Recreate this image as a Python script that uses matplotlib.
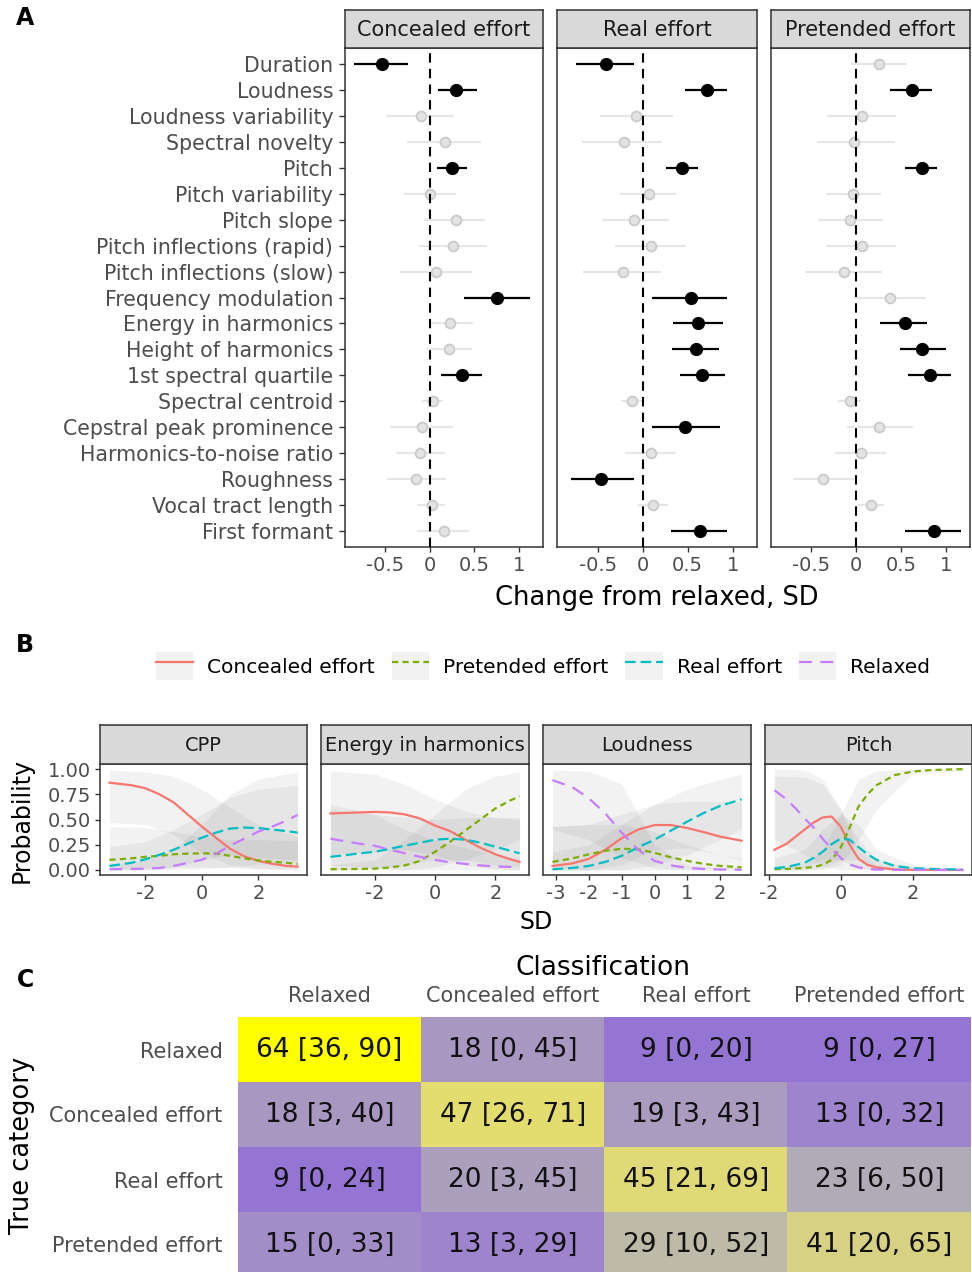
import numpy as np
import matplotlib
matplotlib.use('Agg')
import matplotlib.pyplot as plt
from matplotlib.patches import Patch
from matplotlib.lines import Line2D
from matplotlib.legend_handler import HandlerTuple
from matplotlib.colors import ListedColormap, Normalize, to_rgb

plt.rcParams['font.family'] = ['DejaVu Sans']
plt.rcParams['axes.unicode_minus'] = False

# ---------------- panel A: effect of condition on acoustic features ----------------
features = ['Duration', 'Loudness', 'Loudness variability', 'Spectral novelty', 'Pitch',
            'Pitch variability', 'Pitch slope', 'Pitch inflections (rapid)',
            'Pitch inflections (slow)', 'Frequency modulation', 'Energy in harmonics',
            'Height of harmonics', '1st spectral quartile', 'Spectral centroid',
            'Cepstral peak prominence', 'Harmonics-to-noise ratio', 'Roughness',
            'Vocal tract length', 'First formant']
facets_a = ['Concealed effort', 'Real effort', 'Pretended effort']

conc_est = [-0.54, 0.30, -0.10, 0.17, 0.25, 0.00, 0.29, 0.26, 0.07, 0.76, 0.23, 0.22, 0.36, 0.04, -0.09, -0.11, -0.15, 0.02, 0.16]
conc_lo = [-0.85, 0.09, -0.49, -0.26, 0.08, -0.29, -0.06, -0.12, -0.33, 0.38, -0.01, -0.03, 0.13, -0.09, -0.45, -0.38, -0.48, -0.14, -0.14]
conc_hi = [-0.24, 0.53, 0.27, 0.57, 0.42, 0.30, 0.62, 0.64, 0.47, 1.13, 0.49, 0.47, 0.59, 0.15, 0.26, 0.17, 0.18, 0.17, 0.44]
conc_sig = [1, 1, 0, 0, 1, 0, 0, 0, 0, 1, 0, 0, 1, 0, 0, 0, 0, 0, 0]

real_est = [-0.41, 0.71, -0.07, -0.21, 0.44, 0.07, -0.09, 0.09, -0.22, 0.54, 0.61, 0.59, 0.66, -0.12, 0.47, 0.09, -0.46, 0.12, 0.64]
real_lo = [-0.74, 0.47, -0.47, -0.67, 0.26, -0.25, -0.45, -0.31, -0.66, 0.11, 0.34, 0.33, 0.41, -0.24, 0.11, -0.20, -0.80, -0.05, 0.31]
real_hi = [-0.09, 0.94, 0.34, 0.22, 0.61, 0.37, 0.29, 0.48, 0.20, 0.94, 0.89, 0.85, 0.91, 0.01, 0.86, 0.37, -0.10, 0.28, 0.94]
real_sig = [1, 1, 0, 0, 1, 0, 0, 0, 0, 1, 1, 1, 1, 0, 1, 0, 1, 0, 1]

pret_est = [0.26, 0.62, 0.06, -0.02, 0.73, -0.03, -0.07, 0.06, -0.14, 0.38, 0.54, 0.74, 0.82, -0.07, 0.26, 0.05, -0.37, 0.16, 0.87]
pret_lo = [-0.06, 0.38, -0.33, -0.44, 0.55, -0.34, -0.43, -0.34, -0.57, -0.02, 0.27, 0.49, 0.58, -0.20, -0.10, -0.24, -0.71, 0.01, 0.55]
pret_hi = [0.57, 0.85, 0.45, 0.43, 0.90, 0.28, 0.30, 0.45, 0.29, 0.78, 0.79, 1.00, 1.06, 0.05, 0.63, 0.33, -0.02, 0.31, 1.17]
pret_sig = [0, 1, 0, 0, 1, 0, 0, 0, 0, 0, 1, 1, 1, 0, 0, 0, 0, 0, 1]

# ---------------- panel B: predicted class probabilities ----------------
classes = ['Concealed effort', 'Pretended effort', 'Real effort', 'Relaxed']
cls_col = {'Concealed effort': '#F8766D', 'Pretended effort': '#7CAE00',
           'Real effort': '#00BFC4', 'Relaxed': '#C77CFF'}
cls_ls = {'Concealed effort': '-', 'Pretended effort': (0, (2.8, 1.9)),
          'Real effort': (0, (4.8, 2.2)), 'Relaxed': (0, (5.8, 3.8))}

cpp_x = [-3.27, -2.5, -2, -1.5, -1, -0.5, 0, 0.5, 1, 1.5, 2, 2.5, 3, 3.39]
cpp_p = {'Concealed effort': [.865, .84, .81, .75, .67, .55, .43, .32, .21, .135, .09, .06, .04, .033],
         'Pretended effort': [.10, .115, .13, .14, .155, .162, .165, .163, .14, .115, .095, .08, .07, .06],
         'Real effort': [.04, .07, .105, .15, .20, .26, .32, .37, .41, .42, .415, .40, .385, .37],
         'Relaxed': [.007, .01, .013, .02, .04, .07, .10, .16, .24, .31, .38, .43, .49, .545]}
cpp_rx = [-3.27, -2, -1, 0, 1, 2, 3.39]
cpp_lo = {'Concealed effort': [.47, .45, .35, .17, .05, .01, 0],
          'Pretended effort': [.01, .02, .03, .03, .02, .01, .01],
          'Real effort': [0, 0, .02, .10, .15, .12, .10],
          'Relaxed': [0, 0, 0, .01, .03, .05, .08]}
cpp_hi = {'Concealed effort': [.99, .97, .93, .80, .62, .45, .33],
          'Pretended effort': [.43, .42, .38, .33, .30, .30, .29],
          'Real effort': [.23, .28, .40, .55, .72, .80, .84],
          'Relaxed': [.05, .10, .20, .45, .75, .90, .97]}

eh_x = [-3.47, -3, -2.5, -2, -1.5, -1, -0.5, 0, 0.5, 1, 1.5, 2, 2.5, 2.8]
eh_p = {'Concealed effort': [.56, .565, .57, .575, .57, .55, .51, .44, .385, .30, .22, .155, .105, .08],
        'Pretended effort': [.007, .008, .01, .013, .025, .045, .09, .18, .28, .39, .50, .61, .69, .73],
        'Real effort': [.13, .145, .165, .18, .21, .24, .27, .30, .31, .30, .27, .23, .19, .165],
        'Relaxed': [.31, .285, .26, .24, .20, .165, .13, .10, .075, .06, .045, .035, .03, .026]}
eh_rx = [-3.47, -2, -1, 0, 1, 2, 2.8]
eh_lo = {'Concealed effort': [.15, .18, .20, .15, .05, .01, 0],
         'Pretended effort': [0, 0, 0, .03, .10, .20, .30],
         'Real effort': [0, .02, .05, .10, .10, .05, .03],
         'Relaxed': [.05, .02, 0, 0, 0, 0, 0]}
eh_hi = {'Concealed effort': [.98, .95, .85, .70, .58, .52, .50],
         'Pretended effort': [.05, .10, .30, .55, .80, .93, .97],
         'Real effort': [.60, .55, .52, .50, .52, .52, .52],
         'Relaxed': [.65, .55, .40, .30, .22, .15, .12]}

ld_x = [-3.11, -2.5, -2, -1.5, -1, -0.5, 0, 0.5, 1, 1.5, 2, 2.65]
ld_p = {'Concealed effort': [.04, .065, .11, .20, .315, .40, .445, .445, .415, .375, .33, .29],
        'Pretended effort': [.08, .115, .155, .19, .21, .205, .17, .125, .09, .06, .04, .026],
        'Real effort': [.007, .02, .04, .08, .14, .225, .30, .39, .48, .565, .635, .70],
        'Relaxed': [.89, .82, .71, .56, .37, .20, .09, .045, .02, .01, .005, .002]}
ld_rx = [-3.11, -2, -1, 0, 1, 2, 2.65]
ld_lo = {'Concealed effort': [0, 0, .05, .20, .22, .15, .10],
         'Pretended effort': [0, 0, 0, 0, 0, 0, 0],
         'Real effort': [0, 0, 0, .05, .15, .30, .40],
         'Relaxed': [.40, .30, .12, .02, 0, 0, 0]}
ld_hi = {'Concealed effort': [.43, .45, .55, .65, .68, .68, .68],
         'Pretended effort': [.43, .45, .45, .38, .25, .15, .12],
         'Real effort': [.18, .25, .45, .65, .80, .90, .95],
         'Relaxed': [.99, .98, .85, .25, .05, .02, .02]}

pi_x = [-1.84, -1.5, -1.25, -1, -0.75, -0.5, -0.25, 0, 0.25, 0.5, 0.75, 1, 1.5, 2, 2.5, 3.39]
pi_p = {'Concealed effort': [.20, .26, .33, .40, .47, .52, .53, .43, .25, .11, .05, .025, .005, .001, 0, 0],
        'Pretended effort': [.007, .01, .015, .02, .03, .05, .10, .22, .42, .63, .75, .84, .94, .975, .99, 1.0],
        'Real effort': [.017, .03, .05, .07, .12, .18, .255, .31, .30, .225, .155, .10, .04, .017, .01, .005],
        'Relaxed': [.79, .70, .61, .51, .42, .31, .21, .12, .055, .025, .01, .004, .001, 0, 0, 0]}
pi_rx = [-1.84, -1, -0.5, 0, 0.5, 1, 2, 3.39]
pi_lo = {'Concealed effort': [0, .02, .10, .10, .02, 0, 0, 0],
         'Pretended effort': [0, 0, 0, .05, .30, .60, .95, .98],
         'Real effort': [0, 0, .02, .10, .10, .02, 0, 0],
         'Relaxed': [.30, .15, .04, 0, 0, 0, 0, 0]}
pi_hi = {'Concealed effort': [.93, .92, .85, .60, .20, .05, 0, 0],
         'Pretended effort': [.02, .05, .20, .55, .90, .98, 1.0, 1.0],
         'Real effort': [.12, .20, .40, .55, .45, .20, .05, .01],
         'Relaxed': [1.0, .99, .90, .60, .30, .10, .03, 0]}

# ---------------- panel C: confusion matrix ----------------
cm_labels = ['Relaxed', 'Concealed effort', 'Real effort', 'Pretended effort']
cm_pct = [[64, 18, 9, 9], [18, 47, 19, 13], [9, 20, 45, 23], [15, 13, 29, 41]]
cm_lo = [[36, 0, 0, 0], [3, 26, 3, 0], [0, 3, 21, 6], [0, 3, 10, 20]]
cm_hi = [[90, 45, 20, 27], [40, 71, 43, 32], [24, 45, 69, 50], [33, 29, 52, 65]]
chance = 25

W, H = 972, 1272
fig = plt.figure(figsize=(W / 100, H / 100), dpi=100)


def box(l, t, r, b):
    return [l / W, 1 - b / H, (r - l) / W, (b - t) / H]


def ftext(x, y, s, **kw):
    fig.text(x / W, 1 - y / H, s, **kw)


def style(ax, size=13.5):
    for s in ax.spines.values():
        s.set_color('#333333')
        s.set_linewidth(1.1)
    ax.tick_params(colors='#333333', labelcolor='#4D4D4D', labelsize=size,
                   length=3.5, width=1.0, pad=3)


def strip(rect, label, size):
    sax = fig.add_axes(box(*rect))
    sax.set_facecolor('#D9D9D9')
    sax.set_xticks([])
    sax.set_yticks([])
    for s in sax.spines.values():
        s.set_color('#333333')
        s.set_linewidth(1.1)
    sax.text(0.5, 0.47, label, ha='center', va='center', fontsize=size, color='#1A1A1A',
             transform=sax.transAxes)


# ---- A ----
a_rects = [(345, 48, 543, 547), (557, 48, 757, 547), (771, 48, 970, 547)]
a_data = [(conc_est, conc_lo, conc_hi, conc_sig), (real_est, real_lo, real_hi, real_sig),
          (pret_est, pret_lo, pret_hi, pret_sig)]
allv = np.concatenate([conc_lo, conc_hi, real_lo, real_hi, pret_lo, pret_hi])
span = allv.max() - allv.min()
xl = (allv.min() - 0.05 * span, allv.max() + 0.05 * span)
rows = np.arange(len(features))

for k, (rect, (est, lo, hi, sig)) in enumerate(zip(a_rects, a_data)):
    ax = fig.add_axes(box(*rect))
    est, lo, hi, sig = map(np.asarray, (est, lo, hi, sig))
    ns = sig == 0
    ax.hlines(rows[ns], lo[ns], hi[ns], color='#E6E6E6', lw=1.5, zorder=1)
    ax.scatter(est[ns], rows[ns], s=50, facecolor='#E3E3E3', edgecolor='#CACACA', lw=1.3, zorder=2)
    ax.axvline(0, color='black', lw=1.5, ls=(0, (4.5, 3)), zorder=3)
    ax.hlines(rows[~ns], lo[~ns], hi[~ns], color='black', lw=1.6, zorder=4)
    ax.scatter(est[~ns], rows[~ns], s=72, color='black', zorder=5)
    ax.set_xlim(*xl)
    ax.set_ylim(len(features) - 0.4, -0.6)
    ax.set_xticks([-0.5, 0, 0.5, 1])
    ax.set_xticklabels(['-0.5', '0', '0.5', '1'])
    ax.set_yticks(rows)
    ax.set_yticklabels(features if k == 0 else [])
    style(ax, 14)
    if k > 0:
        ax.tick_params(axis='y', length=0)
    else:
        ax.tick_params(axis='y', labelsize=14.8, pad=4.5, length=4)
    strip((rect[0], 10, rect[2], 48), facets_a[k], 15)

ftext(657, 598, 'Change from relaxed, SD', ha='center', va='center', fontsize=18.5)

# ---- B ----
b_facets = [('CPP', cpp_x, cpp_p, cpp_rx, cpp_lo, cpp_hi, [-2, 0, 2], (100, 307)),
            ('Energy in harmonics', eh_x, eh_p, eh_rx, eh_lo, eh_hi, [-2, 0, 2], (321, 529)),
            ('Loudness', ld_x, ld_p, ld_rx, ld_lo, ld_hi, [-3, -2, -1, 0, 1, 2], (543, 751)),
            ('Pitch', pi_x, pi_p, pi_rx, pi_lo, pi_hi, [-2, 0, 2], (765, 972))]

for k, (name, x, p, rx, rlo, rhi, ticks, (l, r)) in enumerate(b_facets):
    ax = fig.add_axes(box(l, 764, r, 875))
    for c in classes:
        ax.fill_between(rx, rlo[c], rhi[c], color='grey', alpha=0.1, lw=0)
    for c in classes:
        ax.plot(x, p[c], color=cls_col[c], ls=cls_ls[c], lw=1.6)
    d = max(x) - min(x)
    ax.set_xlim(min(x) - 0.05 * d, max(x) + 0.05 * d)
    ax.set_ylim(-0.05, 1.05)
    ax.set_xticks(ticks)
    ax.set_xticklabels([str(t) for t in ticks])
    ax.set_yticks([0, 0.25, 0.5, 0.75, 1])
    style(ax, 14)
    if k == 0:
        ax.set_yticklabels(['0.00', '0.25', '0.50', '0.75', '1.00'])
    else:
        ax.set_yticklabels([])
        ax.tick_params(axis='y', length=0)
    strip((l, 725, r, 764), name, 14)

ftext(22, 820, 'Probability', ha='center', va='center', rotation=90, fontsize=17)
ftext(536, 922, 'SD', ha='center', va='center', fontsize=17)

handles = [(Patch(facecolor='grey', alpha=0.1, lw=0),
            Line2D([], [], color=cls_col[c], ls=cls_ls[c], lw=1.6)) for c in classes]
fig.legend(handles, classes, loc='center', bbox_to_anchor=(543 / W, 1 - 666 / H), ncol=4,
           frameon=False, fontsize=14.5, handlelength=1.85, handleheight=1.75,
           handletextpad=0.7, columnspacing=0.85,
           handler_map={tuple: HandlerTuple(ndivide=1, pad=0)})


# ---- C ----
M = np.array([[0.4124, 0.3576, 0.1805], [0.2126, 0.7152, 0.0722], [0.0193, 0.1192, 0.9505]])
WP = np.array([0.95047, 1.0, 1.08883])


def to_lab(c):
    rgb = np.array(to_rgb(c))
    lin = np.where(rgb <= 0.04045, rgb / 12.92, ((rgb + 0.055) / 1.055) ** 2.4)
    f = np.cbrt(M @ lin / WP)
    return np.array([116 * f[1] - 16, 500 * (f[0] - f[1]), 200 * (f[1] - f[2])])


def from_lab(lab):
    fy = (lab[:, 0] + 16) / 116
    f = np.stack([fy + lab[:, 1] / 500, fy, fy - lab[:, 2] / 200], -1)
    xyz = np.where(f > 0.206893, f ** 3, (f - 16 / 116) / 7.787) * WP
    lin = np.clip(xyz @ np.linalg.inv(M).T, 0, 1)
    return np.clip(np.where(lin <= 0.0031308, 12.92 * lin, 1.055 * lin ** (1 / 2.4) - 0.055), 0, 1)


t = np.linspace(0, 1, 256)[:, None]
low, mid, high = to_lab('blue'), to_lab('#B3B3B3'), to_lab('yellow')
lab = np.where(t < 0.5, low + (mid - low) * (t / 0.5), mid + (high - mid) * ((t - 0.5) / 0.5))
cmap = ListedColormap(from_lab(lab))
pct = np.array(cm_pct)
half = np.abs(pct - chance).max()
norm = Normalize(chance - half, chance + half)

ax = fig.add_axes(box(238, 1017, 971, 1277))
ax.imshow(pct, cmap=cmap, norm=norm, aspect='auto', interpolation='nearest')
for i in range(4):
    for j in range(4):
        ax.text(j, i, f'{cm_pct[i][j]} [{cm_lo[i][j]}, {cm_hi[i][j]}]', ha='center', va='center',
                fontsize=19, color='#111111')
ax.set_xticks(range(4))
ax.set_xticklabels(cm_labels)
ax.set_yticks(range(4))
ax.set_yticklabels(cm_labels)
ax.xaxis.tick_top()
ax.tick_params(length=0, labelsize=15, labelcolor='#4D4D4D', pad=8)
ax.tick_params(axis='y', pad=11)
for s in ax.spines.values():
    s.set_visible(False)
ftext(603, 968, 'Classification', ha='center', va='center', fontsize=19)
ftext(22, 1145, 'True category', ha='center', va='center', rotation=90, fontsize=18.5)

for letter, (x, y) in zip('ABC', [(25, 18), (25, 645), (25, 980)]):
    ftext(x, y, letter, ha='center', va='center', fontsize=17, fontweight='bold')

fig.savefig('out.png', dpi=100)
